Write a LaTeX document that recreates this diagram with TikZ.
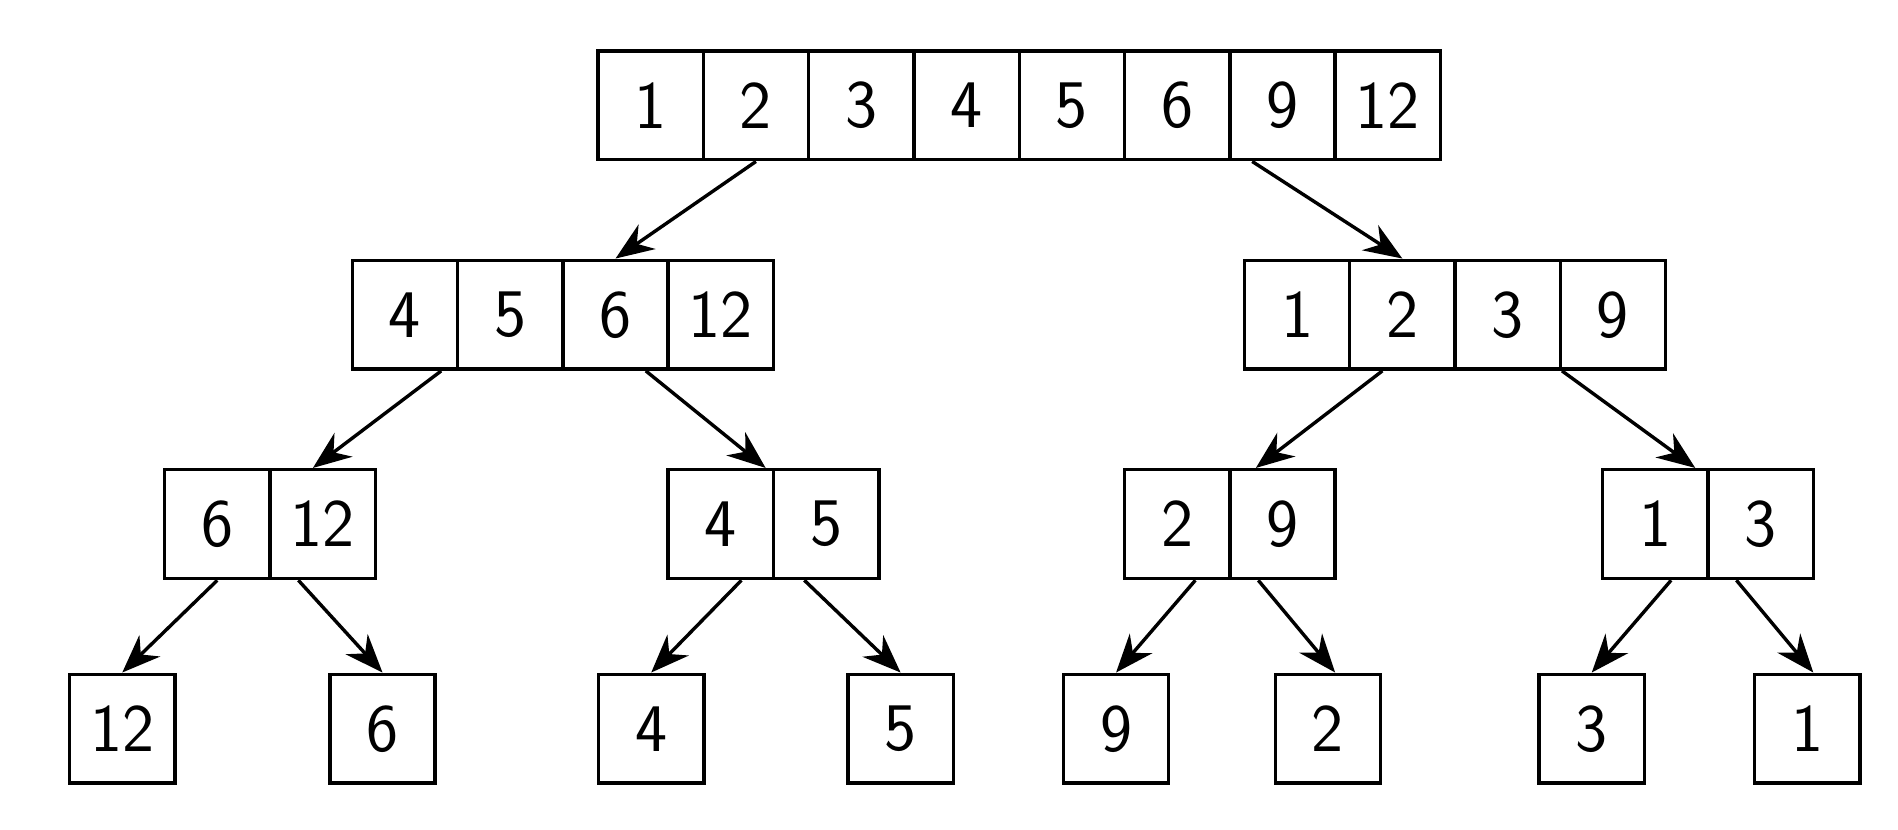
\documentclass[tikz,border=0pt]{standalone}
\usepackage{tikz}
\usetikzlibrary{arrows.meta}
\tikzset{>={Stealth[length=9pt,width=7pt]}}
\tikzset{cell/.style={draw,line width=0.8pt,minimum width=0.87cm,minimum height=0.9cm,inner sep=0pt,
  font=\sffamily\fontsize{16}{18}\selectfont},
  link/.style={->,line width=0.8pt}}

\begin{document}
\begin{tikzpicture}
        \useasboundingbox (0,0) rectangle (15.68,-6.85);
        % top array
        \foreach \v [count=\i] in {1,2,3,4,5,6,9,12}
          \node[cell] (t\i) at (4.94+0.87*\i-0.435,-0.87) {\v};
        % second level
        \foreach \v [count=\i] in {4,5,6,12}
          \node[cell] (l\i) at (2.91+0.87*\i-0.435,-2.6) {\v};
        \foreach \v [count=\i] in {1,2,3,9}
          \node[cell] (r\i) at (10.28+0.87*\i-0.435,-2.6) {\v};
        % third level
        \node[cell] (a1) at (1.795,-4.33) {6};
        \node[cell] (a2) at (2.665,-4.33) {12};
        \node[cell] (b1) at (5.955,-4.33) {4};
        \node[cell] (b2) at (6.825,-4.33) {5};
        \node[cell] (c1) at (9.725,-4.33) {2};
        \node[cell] (c2) at (10.595,-4.33) {9};
        \node[cell] (d1) at (13.675,-4.33) {1};
        \node[cell] (d2) at (14.545,-4.33) {3};
        % leaves
        \node[cell] (e1) at (1.01,-6.02) {12};
        \node[cell] (e2) at (3.16,-6.02) {6};
        \node[cell] (e3) at (5.38,-6.02) {4};
        \node[cell] (e4) at (7.44,-6.02) {5};
        \node[cell] (e5) at (9.22,-6.02) {9};
        \node[cell] (e6) at (10.97,-6.02) {2};
        \node[cell] (e7) at (13.15,-6.02) {3};
        \node[cell] (e8) at (14.93,-6.02) {1};
        % splits
        \draw[link] (t2.south) -- (l3.north);
        \draw[link] ([xshift=-0.25cm]t7.south) -- (r2.north);
        \draw[link] ([xshift=0.3cm]l1.south) -- ([xshift=-0.08cm]a2.north);
        \draw[link] ([xshift=0.25cm]l3.south) -- ([xshift=0.37cm]b1.north);
        \draw[link] ([xshift=-0.165cm]r2.south) -- ([xshift=-0.22cm]c2.north);
        \draw[link] (r3.south east) -- ([xshift=0.33cm]d1.north);
        \draw[link] (a1.south) -- (e1.north);
        \draw[link] ([xshift=-0.2cm]a2.south) -- (e2.north);
        \draw[link] ([xshift=0.17cm]b1.south) -- (e3.north);
        \draw[link] ([xshift=-0.18cm]b2.south) -- (e4.north);
        \draw[link] ([xshift=0.15cm]c1.south) -- (e5.north);
        \draw[link] ([xshift=-0.2cm]c2.south) -- ([xshift=0.06cm]e6.north);
        \draw[link] ([xshift=0.13cm]d1.south) -- (e7.north);
        \draw[link] ([xshift=-0.2cm]d2.south) -- ([xshift=0.05cm]e8.north);
\end{tikzpicture}
\end{document}
